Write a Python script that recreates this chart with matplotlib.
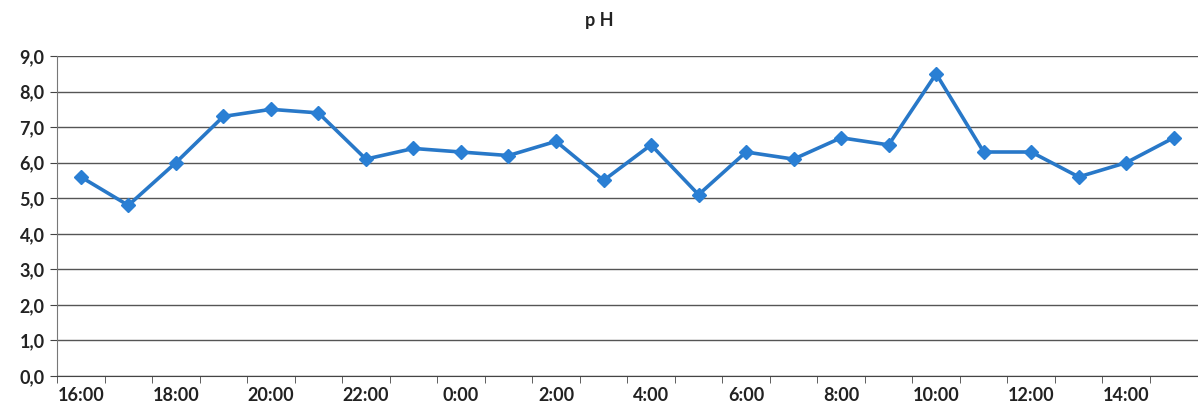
import matplotlib.pyplot as plt
from matplotlib.ticker import FixedLocator, FuncFormatter

# pH readings, one per hour from 16:00 to 15:00 next day
hours = ["16:00", "17:00", "18:00", "19:00", "20:00", "21:00", "22:00", "23:00",
         "0:00", "1:00", "2:00", "3:00", "4:00", "5:00", "6:00", "7:00",
         "8:00", "9:00", "10:00", "11:00", "12:00", "13:00", "14:00", "15:00"]
ph = [5.6, 4.8, 6.0, 7.3, 7.5, 7.4, 6.1, 6.4, 6.3, 6.2, 6.6, 5.5,
      6.5, 5.1, 6.3, 6.1, 6.7, 6.5, 8.5, 6.3, 6.3, 5.6, 6.0, 6.7]

plt.rcParams['font.family'] = ['Lato', 'DejaVu Sans']

fig = plt.figure(figsize=(11.98, 4.17), dpi=100)
ax = fig.add_axes([0.0476, 0.0983, 0.952, 0.7674])

x = list(range(len(ph)))
ax.plot(x, ph, color='#2878c8', linewidth=2.6, marker='D', markersize=7,
        markerfacecolor='#2a7fd4', markeredgecolor='#2a7fd4', zorder=3)

ax.set_xlim(-0.5, len(ph) - 0.5)
ax.set_ylim(0, 9)
ax.set_yticks([i for i in range(10)])
ax.yaxis.set_major_formatter(FuncFormatter(lambda v, p: ("%.1f" % v).replace(".", ",")))
ax.grid(axis='y', color='#555555', linewidth=1.0)
ax.set_axisbelow(True)

# labels every 2 hours, tick marks between categories
ax.set_xticks(x[::2])
ax.set_xticklabels(hours[::2])
ax.xaxis.set_minor_locator(FixedLocator([i - 0.5 for i in range(len(ph) + 1)]))
ax.tick_params(axis='x', which='major', length=0, pad=8, labelsize=13)
ax.tick_params(axis='x', which='minor', length=5, color='#444444')
ax.tick_params(axis='y', length=5, color='#444444', labelsize=13, pad=4)
for lab in ax.get_xticklabels() + ax.get_yticklabels():
    lab.set_fontweight('bold')
    lab.set_color('#222222')

for s in ['top', 'right']:
    ax.spines[s].set_visible(False)
ax.spines['left'].set_color('#777777')
ax.spines['bottom'].set_color('#444444')

fig.text(0.5, 0.95, "p H", ha='center', va='center', fontsize=13, fontweight='bold', color='#222222')

fig.savefig("out.png", dpi=100)
